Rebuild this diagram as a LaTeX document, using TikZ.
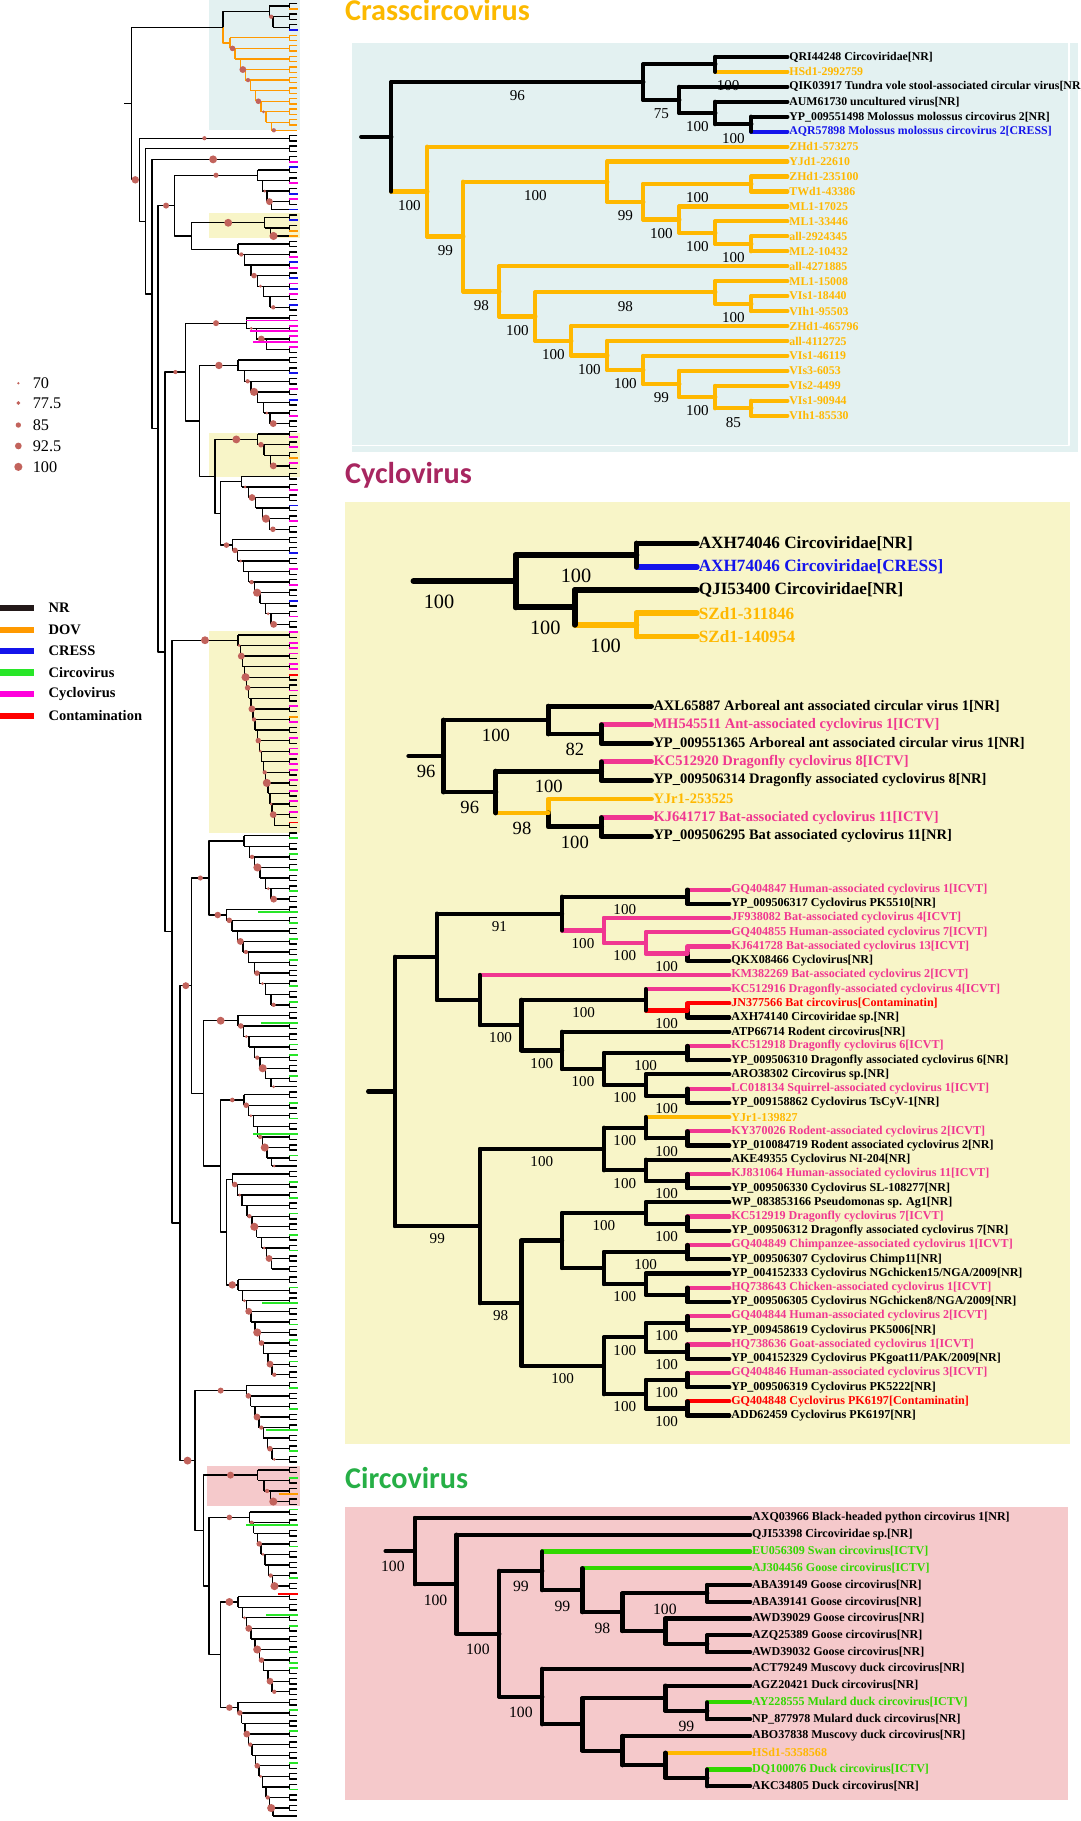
\documentclass[tikz,border=0pt]{standalone}
\usepackage{fontspec}
\setmainfont{Liberation Serif}
\newfontfamily\headfont{Carlito}
\usetikzlibrary{calc}

\definecolor{dov}{RGB}{255,184,0}
\definecolor{dovl}{RGB}{255,153,0}
\definecolor{cress}{RGB}{20,20,235}
\definecolor{cyc}{RGB}{240,55,145}
\definecolor{cycl}{RGB}{255,0,220}
\definecolor{circ}{RGB}{50,215,0}
\definecolor{circl}{RGB}{40,230,40}
\definecolor{contam}{RGB}{255,0,0}
\definecolor{nrblk}{RGB}{35,25,25}
\definecolor{dotc}{RGB}{194,99,92}
\definecolor{crassbg}{RGB}{227,241,241}
\definecolor{cyclobg}{RGB}{248,245,200}
\definecolor{circobg}{RGB}{245,201,203}
\definecolor{crasshead}{RGB}{252,185,0}
\definecolor{cyclohead}{RGB}{168,38,96}
\definecolor{circohead}{RGB}{38,175,70}

% y of leaf i in the overview tree
\newcommand\ovy[1]{3+4.55*(#1)}
% inner node at x=#2, halfway between children #3 and #4
\newcommand\tjoin[4]{\path ($(#3)!.5!(#4)$) coordinate (#1m);
  \coordinate (#1) at (#2,0 |- #1m);}
% style, name, x, child a, colour a, child b, colour b, colour of upright
\newcommand\clade[8]{\tjoin{#2}{#3}{#4}{#6}
  \draw[#1,#5] (#2) |- (#4);
  \draw[#1,#7] (#2) |- (#6);
  \draw[#1,#8] (#2 |- #4) -- (#2 |- #6);}
% support value under the branch into #4
\newcommand\bsl[5]{\node[#1] (#2) at ($(#3 |- #4)!.5!(#4)$) {#5};}
% ladder clade of the overview tree: leaves #3..#4, root at x=#5
\newcommand\ovclade[5][black]{%
  \pgfmathtruncatemacro\ovn{(#4-#3+2)/2}%
  \pgfmathsetmacro\ovdx{(238-#5)/max(\ovn-1,1)}%
  \foreach \k in {1,...,\ovn}{%
    \pgfmathtruncatemacro\ovla{#3+2*(\k-1)}%
    \pgfmathsetmacro\ovya{\ovy{\ovla}}%
    \pgfmathsetmacro\ovyb{\ovya+4.55}%
    \pgfmathsetmacro\ovyu{\ovla<#4 ? \ovya+2.275 : \ovya}%
    \pgfmathsetmacro\ovyn{\ovla+2<#4 ? \ovya+11.375 : \ovya+9.1}%
    \pgfmathsetmacro\ovxk{#5+(\k-1)*\ovdx}%
    \pgfmathsetmacro\ovxp{#5+max(\k-2,0)*\ovdx}%
    \pgfmathsetmacro\ovxe{\ovla<#4 ? 249 : 256}%
    \draw[ovbr,#1] (\ovxp,\ovyu) -- (\ovxe,\ovyu);
    \ifnum\k<\ovn \draw[ovbr,#1] (\ovxk,\ovyu) -- (\ovxk,\ovyn);\fi
    \ifnum\ovla<#4 \draw[ovbr,#1] (256,\ovya) -- (249,\ovya) -- (249,\ovyb) -- (256,\ovyb);\fi
    \ifnum\k>1
      \pgfmathtruncatemacro\ovm{mod(\k+#3,3)}%
      \pgfmathsetmacro\ovr{1.3+0.55*mod(3*\k+#3,5)}%
      \ifnum\ovm>0 \fill[dotc] ({(\ovxp+\ovxk)/2},\ovyu) circle (\ovr);\fi
    \fi
  }%
  \pgfmathsetmacro\ovya{\ovy{#3}}%
  \pgfmathsetmacro\ovyc{\ovn>1 ? \ovya+6.825 : (#4>#3 ? \ovya+2.275 : \ovya)}%
  \coordinate (#2) at (#5,\ovyc);}

\begin{document}
\begin{tikzpicture}[x=1pt, y=-1pt, line join=round]
\tikzstyle{head}=[anchor=base west, inner sep=0pt, font=\headfont\bfseries\fontsize{26}{26}\selectfont]
\tikzstyle{ovbr}=[line width=1.15pt]
\tikzstyle{ovtip}=[line width=1.6pt]
\tikzstyle{legval}=[anchor=west, inner sep=0pt, font=\fontsize{14}{14}\selectfont]
\tikzstyle{legkey}=[anchor=west, inner sep=0pt, font=\bfseries\fontsize{12.5}{12.5}\selectfont]
\tikzstyle{crleaf}=[anchor=west, inner sep=1.5pt, font=\bfseries\fontsize{10.2}{10.2}\selectfont]
\tikzstyle{crbr}=[line width=3.6pt, line cap=round]
\tikzstyle{crbs}=[inner sep=0pt, font=\fontsize{13}{13}\selectfont, yshift=-12pt]
\tikzstyle{aleaf}=[anchor=west, inner sep=1.5pt, font=\bfseries\fontsize{14.8}{14.8}\selectfont]
\tikzstyle{abr}=[line width=5pt, line cap=round]
\tikzstyle{abs}=[inner sep=0pt, font=\fontsize{17.5}{17.5}\selectfont, yshift=-18pt]
\tikzstyle{bleaf}=[anchor=west, inner sep=1.5pt, font=\bfseries\fontsize{12.5}{12.5}\selectfont]
\tikzstyle{bbr}=[line width=4.2pt, line cap=round]
\tikzstyle{bbs}=[inner sep=0pt, font=\fontsize{16}{16}\selectfont, yshift=-13pt]
\tikzstyle{cleaf}=[anchor=west, inner sep=1.5pt, font=\bfseries\fontsize{10.4}{10.4}\selectfont]
\tikzstyle{cbr}=[line width=3.6pt, line cap=round]
\tikzstyle{cbs}=[inner sep=0pt, font=\fontsize{13}{13}\selectfont, yshift=-11pt]
\tikzstyle{zleaf}=[anchor=west, inner sep=1.5pt, font=\bfseries\fontsize{10.35}{10.35}\selectfont]
\tikzstyle{zbr}=[line width=3.6pt, line cap=round]
\tikzstyle{zbs}=[inner sep=0pt, font=\fontsize{13.5}{13.5}\selectfont, yshift=-13.5pt]

\useasboundingbox (0,0) rectangle (930,1568);

% backgrounds
\fill[crassbg] (180,0) rectangle (258,112);
\fill[cyclobg] (180,183) rectangle (258,205);
\fill[cyclobg] (180,373) rectangle (258,411);
\fill[cyclobg] (180,543) rectangle (258,717);
\fill[circobg] (178,1262) rectangle (258,1297);
\fill[crassbg] (303,37) rectangle (928,389);
\draw[white, line width=1.5pt] (920.5,37) -- (920.5,383.5) -- (303,383.5);
\fill[cyclobg] (297,432) rectangle (921,1243);
\fill[circobg] (297,1298) rectangle (920,1550);

%%% overview tree
\ovclade{cb}{0}{5}{232}
\ovclade[dovl]{co}{6}{24}{198}
\tjoin{g1}{192}{cb}{co}
\draw[ovbr] (g1) |- (cb);
\draw[ovbr,dovl] (g1) |- (co);
\ovclade{g2}{25}{26}{232}
\ovclade{g3}{27}{28}{236}
\ovclade{g4}{29}{30}{236}
\ovclade{g5}{31}{39}{222}
\ovclade{g6}{40}{44}{228}
\ovclade{g7}{45}{58}{205}
\ovclade{g8}{59}{66}{212}
\ovclade{g9}{67}{80}{205}
\ovclade{g10}{81}{88}{222}
\ovclade{g11}{89}{100}{208}
\ovclade{g12}{101}{118}{200}
\ovclade{g13}{119}{156}{205}
\ovclade{g14}{157}{170}{210}
\ovclade{g15}{171}{190}{195}
\ovclade{g16}{191}{205}{205}
\ovclade{g17}{206}{220}{210}
\ovclade{g18}{221}{240}{200}
\ovclade{g19}{241}{260}{205}
\ovclade{g20}{261}{276}{212}
\ovclade{g21}{277}{284}{222}
\ovclade{g22}{285}{300}{215}
\ovclade{g23}{301}{320}{205}
\ovclade{g24}{321}{343}{205}

\tjoin{U3}{190}{g23}{g24}
\tjoin{U2}{180}{g22}{U3}
\tjoin{U1}{175}{g21}{U2}
\tjoin{U}{168}{g20}{U1}
\tjoin{T4}{195}{g18}{g19}
\tjoin{T3}{190}{g17}{T4}
\tjoin{T2}{175}{g16}{T3}
\tjoin{T1}{180}{g14}{g15}
\tjoin{T}{165}{T1}{T2}
\tjoin{R7}{155}{T}{U}
\tjoin{R6}{148}{g13}{R7}
\tjoin{S4}{190}{g11}{g12}
\tjoin{S3}{185}{g10}{S4}
\tjoin{S2}{172}{g9}{S3}
\tjoin{S}{160}{g8}{S2}
\tjoin{R5}{142}{S}{R6}
\tjoin{Q2}{165}{g6}{g7}
\tjoin{Q}{150}{g5}{Q2}
\tjoin{R4}{136}{Q}{R5}
\tjoin{R3}{131}{g4}{R4}
\tjoin{R2}{125}{g3}{R3}
\tjoin{R1}{120}{g2}{R2}
\tjoin{R0}{113}{g1}{R1}
\foreach \pa/\ca/\cb in {U3/g23/g24, U2/g22/U3, U1/g21/U2, U/g20/U1, T4/g18/g19,
    T3/g17/T4, T2/g16/T3, T1/g14/g15, T/T1/T2, R7/T/U, R6/g13/R7, S4/g11/g12,
    S3/g10/S4, S2/g9/S3, S/g8/S2, R5/S/R6, Q2/g6/g7, Q/g5/Q2, R4/Q/R5,
    R3/g4/R4, R2/g3/R3, R1/g2/R2, R0/g1/R1}
  \draw[ovbr] (\ca) -| (\pa) |- (\cb);
\draw[ovbr] (107,0 |- R0) -- (R0);
\foreach \pa/\ca/\rr in {R0/R1/3.2, R1/g2/1.8, R3/g4/3.4, R4/Q/2.6, Q/g5/2.2, Q2/g6/3.4,
    R5/S/1.8, S/g8/2.6, S2/g9/3.2, S3/g10/3.4, S4/g12/2.4, R6/g13/3.4, R7/T/3.0,
    T/T1/2.2, T1/g15/2.8, T2/g16/3.4, T3/g17/2.0, T4/g19/3.2, R7/U/3.4, U/g20/2.6,
    U1/g21/3.0, U2/g22/2.4, U3/g23/3.4, U3/g24/2.8}
  \fill[dotc] ($(\pa |- \ca)!.5!(\ca)$) circle (\rr);
% coloured tips
\foreach \i/\col in {1/dovl, 5/cress, 30/cycl, 31/cress, 34/cycl, 36/cress, 37/cycl, 39/cress,
    41/cress, 43/dovl, 44/dovl, 48/cycl, 49/cress, 50/cycl, 52/cress, 53/cycl, 54/cress,
    55/cycl, 57/cress, 61/cycl, 63/cycl, 65/cycl, 70/cress, 73/cycl, 75/cress, 78/cycl,
    82/cycl, 84/cycl, 86/dovl, 87/cycl, 92/cycl, 95/cress, 98/cycl, 104/cress, 107/cycl,
    110/cycl, 113/cress, 116/cycl, 119/cycl, 121/cycl, 122/cycl, 123/cycl, 125/cycl,
    126/cycl, 127/contam, 130/cycl, 133/cycl, 135/dovl, 136/cycl, 139/cycl, 141/cycl,
    142/cycl, 144/cycl, 145/cycl, 147/cycl, 149/cycl, 151/cycl, 153/cycl, 155/contam,
    158/circl, 161/circl, 164/circl, 168/circl, 174/circl, 177/circl, 181/circl,
    186/circl, 189/circl, 197/circl, 199/circl, 203/circl, 208/circl, 211/circl,
    218/circl, 223/circl, 226/circl, 229/circl, 233/circl, 236/circl, 243/circl,
    250/circl, 253/circl, 257/circl, 262/circl, 266/circl, 274/circl, 279/circl,
    285/circl, 292/circl, 298/circl, 307/circl, 312/circl, 314/circl, 315/circl,
    323/circl, 327/circl, 333/circl, 338/circl}
  \draw[ovtip,\col] (249,{\ovy{\i}}) -- (256.5,{\ovy{\i}});
\foreach \i/\x/\col in {60/212/cycl, 62/215/cycl, 64/218/cycl, 172/222/circl,
    193/225/circl, 214/218/circl, 246/226/circl, 270/229/circl, 282/240/dovl,
    288/212/circl, 301/239/contam, 305/229/circl}
  \draw[ovtip,\col] (\x,{\ovy{\i}}) -- (256.5,{\ovy{\i}});

%%% legend
\foreach \v/\rr/\y [count=\i] in {70/1.15/330, 77.5/1.7/347, 85/2.3/366, 92.5/2.9/384, 100/3.5/402}{
  \fill[dotc] (15.8,\y) circle (\rr);
  \node[legval] (size\i) at (28,\y) {\v};
}
\foreach \lbl/\col/\y [count=\i] in {NR/nrblk/523.5, DOV/dovl/542.5, CRESS/cress/560.6,
    Circovirus/circl/579, Cyclovirus/cycl/597.6, Contamination/contam/616.5}{
  \draw[\col, line width=5.7pt] (0,\y) -- (29,\y);
  \node[legkey] (key\i) at (41.6,\y) {\lbl};
}

%%% Crasscircovirus
\node[head, text=crasshead] (crasstitle) at (297,18) {Crasscircovirus};
\foreach \lbl/\col [count=\i] in {QRI44248 Circoviridae[NR]/black, HSd1-2992759/dov,
    QIK03917 Tundra vole stool-associated circular virus[NR]/black,
    AUM61730 uncultured virus[NR]/black,
    YP\_009551498 Molossus molossus circovirus 2[NR]/black,
    AQR57898 Molossus molossus circovirus 2[CRESS]/cress,
    ZHd1-573275/dov, YJd1-22610/dov, ZHd1-235100/dov, TWd1-43386/dov,
    ML1-17025/dov, ML1-33446/dov, all-2924345/dov, ML2-10432/dov,
    all-4271885/dov, ML1-15008/dov, VIs1-18440/dov, VIh1-95503/dov,
    ZHd1-465796/dov, all-4112725/dov, VIs1-46119/dov, VIs3-6053/dov,
    VIs2-4499/dov, VIs1-90944/dov, VIh1-85530/dov}
  \node[crleaf, text=\col] (cr\i) at (678,{49+12.875*(\i-1)}) {\lbl};

\clade{crbr}{ka}{647}{cr5}{black}{cr6}{cress}{black}
\clade{crbr}{kb}{616}{cr4}{black}{ka}{black}{black}
\clade{crbr}{kc}{585}{cr3}{black}{kb}{black}{black}
\clade{crbr}{kd}{616}{cr1}{black}{cr2}{dov}{black}
\clade{crbr}{ke}{554}{kd}{black}{kc}{black}{black}
\clade{crbr}{oa}{647}{cr9}{dov}{cr10}{dov}{dov}
\clade{crbr}{ob}{647}{cr13}{dov}{cr14}{dov}{dov}
\clade{crbr}{oc}{616}{cr12}{dov}{ob}{dov}{dov}
\clade{crbr}{od}{585}{cr11}{dov}{oc}{dov}{dov}
\clade{crbr}{oe}{554}{oa}{dov}{od}{dov}{dov}
\clade{crbr}{of}{523}{cr8}{dov}{oe}{dov}{dov}
\clade{crbr}{og}{647}{cr17}{dov}{cr18}{dov}{dov}
\clade{crbr}{oh}{616}{cr16}{dov}{og}{dov}{dov}
\clade{crbr}{oi}{647}{cr24}{dov}{cr25}{dov}{dov}
\clade{crbr}{oj}{616}{cr23}{dov}{oi}{dov}{dov}
\clade{crbr}{ok}{585}{cr22}{dov}{oj}{dov}{dov}
\clade{crbr}{ol}{554}{cr21}{dov}{ok}{dov}{dov}
\clade{crbr}{om}{523}{cr20}{dov}{ol}{dov}{dov}
\clade{crbr}{on}{492}{cr19}{dov}{om}{dov}{dov}
\clade{crbr}{oo}{461}{oh}{dov}{on}{dov}{dov}
\clade{crbr}{op}{430}{cr15}{dov}{oo}{dov}{dov}
\clade{crbr}{oq}{399}{of}{dov}{op}{dov}{dov}
\clade{crbr}{or}{368}{cr7}{dov}{oq}{dov}{dov}
\clade{crbr}{kr}{337}{ke}{black}{or}{dov}{black}
\draw[crbr] (311,0 |- kr) -- (kr);

\bsl{crbs}{b-ke}{kr}{ke}{96}
\bsl{crbs}{b-kc}{ke}{kc}{75}
\bsl{crbs}{b-kb}{kc}{kb}{100}
\bsl{crbs}{b-ka}{kb}{ka}{100}
\node[crbs] (b-kd) at (627,62) {100};
\bsl{crbs}{b-or}{kr}{or}{100}
\bsl{crbs}{b-oq}{or}{oq}{99}
\bsl{crbs}{b-of}{oq}{of}{100}
\bsl{crbs}{b-oe}{of}{oe}{99}
\bsl{crbs}{b-oa}{oe}{oa}{100}
\bsl{crbs}{b-od}{oe}{od}{100}
\bsl{crbs}{b-oc}{od}{oc}{100}
\bsl{crbs}{b-ob}{oc}{ob}{100}
\bsl{crbs}{b-op}{oq}{op}{98}
\bsl{crbs}{b-oo}{op}{oo}{100}
\bsl{crbs}{b-oh}{oo}{oh}{98}
\bsl{crbs}{b-og}{oh}{og}{100}
\bsl{crbs}{b-on}{oo}{on}{100}
\bsl{crbs}{b-om}{on}{om}{100}
\bsl{crbs}{b-ol}{om}{ol}{100}
\bsl{crbs}{b-ok}{ol}{ok}{99}
\bsl{crbs}{b-oj}{ok}{oj}{100}
\bsl{crbs}{b-oi}{oj}{oi}{85}

%%% Cyclovirus
\node[head, text=cyclohead] (cyclotitle) at (297,416.5) {Cyclovirus};
% first tree
\foreach \lbl/\col [count=\i] in {AXH74046 Circoviridae[NR]/black,
    AXH74046 Circoviridae[CRESS]/cress, QJI53400 Circoviridae[NR]/black,
    SZd1-311846/dov, SZd1-140954/dov}
  \node[aleaf, text=\col] (ya\i) at (600,{468+20*(\i-1)}) {\lbl};
\clade{abr}{aa}{548}{ya1}{black}{ya2}{cress}{black}
\clade{abr}{ab}{548}{ya4}{dov}{ya5}{dov}{dov}
\clade{abr}{ac}{495}{ya3}{black}{ab}{dov}{black}
\clade{abr}{ad}{444}{aa}{black}{ac}{black}{black}
\coordinate (as) at (356,0 |- ad);
\draw[abr] (as) -- (ad);
\node[abs] (b-as) at ($(as)!.25!(ad)$) {100};
\bsl{abs}{b-aa}{ad}{aa}{100}
\bsl{abs}{b-ac}{ad}{ac}{100}
\bsl{abs}{b-ab}{ac}{ab}{100}

% second tree
\foreach \lbl/\col [count=\i] in {AXL65887 Arboreal ant associated circular virus 1[NR]/black,
    MH545511 Ant-associated cyclovirus 1[ICTV]/cyc,
    YP\_009551365 Arboreal ant associated circular virus 1[NR]/black,
    KC512920 Dragonfly cyclovirus 8[ICTV]/cyc,
    YP\_009506314 Dragonfly associated cyclovirus 8[NR]/black,
    YJr1-253525/dov,
    KJ641717 Bat-associated cyclovirus 11[ICTV]/cyc,
    YP\_009506295 Bat associated cyclovirus 11[NR]/black}
  \node[bleaf, text=\col] (yb\i) at (561,{608+16*(\i-1)}) {\lbl};
\clade{bbr}{ba}{518}{yb2}{cyc}{yb3}{black}{black}
\clade{bbr}{bb}{472}{yb1}{black}{ba}{black}{black}
\clade{bbr}{bc}{518}{yb4}{cyc}{yb5}{black}{black}
\clade{bbr}{bd}{518}{yb7}{cyc}{yb8}{black}{black}
\clade{bbr}{be}{472}{yb6}{dov}{bd}{black}{draw=none}
\clade{bbr}{bf}{427}{bc}{black}{be}{dov}{black}
\clade{bbr}{bg}{382}{bb}{black}{bf}{black}{black}
\coordinate (bs) at (352,0 |- bg);
\draw[bbr] (bs) -- (bg);
\node[bbs] (b-bs) at ($(bs)!.5!(bg)$) {96};
\bsl{bbs}{b-bb}{bg}{bb}{100}
\bsl{bbs}{b-ba}{bb}{ba}{82}
\bsl{bbs}{b-bf}{bg}{bf}{96}
\bsl{bbs}{b-bc}{bf}{bc}{100}
\bsl{bbs}{b-be}{bf}{be}{98}
\bsl{bbs}{b-bd}{be}{bd}{100}

% third tree
\foreach \lbl/\col [count=\i] in {GQ404847 Human-associated cyclovirus 1[ICVT]/cyc,
    YP\_009506317 Cyclovirus PK5510[NR]/black,
    JF938082 Bat-associated cyclovirus 4[ICVT]/cyc,
    GQ404855 Human-associated cyclovirus 7[ICVT]/cyc,
    KJ641728 Bat-associated cyclovirus 13[ICVT]/cyc,
    QKX08466 Cyclovirus[NR]/black,
    KM382269 Bat-associated cyclovirus 2[ICVT]/cyc,
    KC512916 Dragonfly-associated cyclovirus 4[ICVT]/cyc,
    JN377566 Bat circovirus[Contaminatin]/contam,
    AXH74140 Circoviridae sp.[NR]/black,
    ATP66714 Rodent circovirus[NR]/black,
    KC512918 Dragonfly cyclovirus 6[ICVT]/cyc,
    YP\_009506310 Dragonfly associated cyclovirus 6[NR]/black,
    ARO38302 Circovirus sp.[NR]/black,
    LC018134 Squirrel-associated cyclovirus 1[ICVT]/cyc,
    YP\_009158862 Cyclovirus TsCyV-1[NR]/black,
    YJr1-139827/dov,
    KY370026 Rodent-associated cyclovirus 2[ICVT]/cyc,
    YP\_010084719 Rodent associated cyclovirus 2[NR]/black,
    AKE49355 Cyclovirus NI-204[NR]/black,
    KJ831064 Human-associated cyclovirus 11[ICVT]/cyc,
    YP\_009506330 Cyclovirus SL-108277[NR]/black,
    WP\_083853166 Pseudomonas sp. Ag1[NR]/black,
    KC512919 Dragonfly cyclovirus 7[ICVT]/cyc,
    YP\_009506312 Dragonfly associated cyclovirus 7[NR]/black,
    GQ404849 Chimpanzee-associated cyclovirus 1[ICVT]/cyc,
    YP\_009506307 Cyclovirus Chimp11[NR]/black,
    {YP\_004152333 Cyclovirus NGchicken15/NGA/2009[NR]}/black,
    HQ738643 Chicken-associated cyclovirus 1[ICVT]/cyc,
    {YP\_009506305 Cyclovirus NGchicken8/NGA/2009[NR]}/black,
    GQ404844 Human-associated cyclovirus 2[ICVT]/cyc,
    YP\_009458619 Cyclovirus PK5006[NR]/black,
    HQ738636 Goat-associated cyclovirus 1[ICVT]/cyc,
    {YP\_004152329 Cyclovirus PKgoat11/PAK/2009[NR]}/black,
    GQ404846 Human-associated cyclovirus 3[ICVT]/cyc,
    YP\_009506319 Cyclovirus PK5222[NR]/black,
    GQ404848 Cyclovirus PK6197[Contaminatin]/contam,
    ADD62459 Cyclovirus PK6197[NR]/black}
  \node[cleaf, text=\col] (yc\i) at (628,{766+12.24*(\i-1)}) {\lbl};
\clade{cbr}{u1}{592}{yc1}{cyc}{yc2}{black}{black}
\clade{cbr}{u2}{592}{yc5}{cyc}{yc6}{black}{draw=none}
\clade{cbr}{u3}{556}{yc4}{cyc}{u2}{cyc}{cyc}
\clade{cbr}{u4}{520}{yc3}{cyc}{u3}{cyc}{cyc}
\clade{cbr}{u5}{484}{u1}{black}{u4}{cyc}{black}
\clade{cbr}{u6}{592}{yc9}{contam}{yc10}{black}{draw=none}
\clade{cbr}{u7}{556}{yc8}{cyc}{u6}{contam}{black}
\clade{cbr}{u8}{592}{yc12}{cyc}{yc13}{black}{black}
\clade{cbr}{u9}{592}{yc15}{cyc}{yc16}{black}{black}
\clade{cbr}{u10}{556}{yc14}{black}{u9}{black}{black}
\clade{cbr}{u11}{520}{u8}{black}{u10}{black}{black}
\clade{cbr}{u12}{484}{yc11}{black}{u11}{black}{black}
\clade{cbr}{u13}{449}{u7}{black}{u12}{black}{black}
\clade{cbr}{u14}{413}{yc7}{cyc}{u13}{black}{black}
\clade{cbr}{u15}{376}{u5}{black}{u14}{black}{black}
\clade{cbr}{l1}{592}{yc18}{cyc}{yc19}{black}{black}
\clade{cbr}{l2}{556}{yc17}{dov}{l1}{black}{black}
\clade{cbr}{l3}{592}{yc21}{cyc}{yc22}{black}{black}
\clade{cbr}{l4}{556}{yc20}{black}{l3}{black}{black}
\clade{cbr}{l5}{520}{l2}{black}{l4}{black}{black}
\clade{cbr}{l6}{592}{yc24}{cyc}{yc25}{black}{black}
\clade{cbr}{l7}{556}{yc23}{black}{l6}{black}{black}
\clade{cbr}{l8}{592}{yc26}{cyc}{yc27}{black}{black}
\clade{cbr}{l9}{592}{yc29}{cyc}{yc30}{black}{black}
\clade{cbr}{l10}{556}{yc28}{black}{l9}{black}{black}
\clade{cbr}{l11}{520}{l8}{black}{l10}{black}{black}
\clade{cbr}{l12}{484}{l7}{black}{l11}{black}{black}
\clade{cbr}{l13}{592}{yc31}{cyc}{yc32}{black}{black}
\clade{cbr}{l14}{592}{yc33}{cyc}{yc34}{black}{black}
\clade{cbr}{l15}{556}{l13}{black}{l14}{black}{black}
\clade{cbr}{l16}{592}{yc35}{cyc}{yc36}{black}{black}
\clade{cbr}{l17}{592}{yc37}{contam}{yc38}{black}{black}
\clade{cbr}{l18}{556}{l16}{black}{l17}{black}{black}
\clade{cbr}{l19}{520}{l15}{black}{l18}{black}{black}
\clade{cbr}{l20}{449}{l12}{black}{l19}{black}{black}
\clade{cbr}{l21}{413}{l5}{black}{l20}{black}{black}
\clade{cbr}{cc}{340}{u15}{black}{l21}{black}{black}
\draw[cbr] (317,0 |- cc) -- (cc);

\bsl{cbs}{b-u5}{u15}{u5}{91}
\bsl{cbs}{b-u1}{u5}{u1}{100}
\bsl{cbs}{b-u4}{u5}{u4}{100}
\bsl{cbs}{b-u3}{u4}{u3}{100}
\bsl{cbs}{b-u2}{u3}{u2}{100}
\bsl{cbs}{b-u13}{u14}{u13}{100}
\bsl{cbs}{b-u7}{u13}{u7}{100}
\bsl{cbs}{b-u6}{u7}{u6}{100}
\bsl{cbs}{b-u12}{u13}{u12}{100}
\bsl{cbs}{b-u11}{u12}{u11}{100}
\bsl{cbs}{b-u8}{u11}{u8}{100}
\bsl{cbs}{b-u10}{u11}{u10}{100}
\bsl{cbs}{b-u9}{u10}{u9}{100}
\bsl{cbs}{b-l21}{cc}{l21}{99}
\bsl{cbs}{b-l5}{l21}{l5}{100}
\bsl{cbs}{b-l2}{l5}{l2}{100}
\bsl{cbs}{b-l1}{l2}{l1}{100}
\bsl{cbs}{b-l4}{l5}{l4}{100}
\bsl{cbs}{b-l3}{l4}{l3}{100}
\bsl{cbs}{b-l7}{l12}{l7}{100}
\bsl{cbs}{b-l6}{l7}{l6}{100}
\bsl{cbs}{b-l8}{l11}{l8}{100}
\bsl{cbs}{b-l10}{l11}{l10}{100}
\bsl{cbs}{b-l20}{l21}{l20}{98}
\bsl{cbs}{b-l19}{l20}{l19}{100}
\bsl{cbs}{b-l15}{l19}{l15}{100}
\bsl{cbs}{b-l13}{l15}{l13}{100}
\bsl{cbs}{b-l14}{l15}{l14}{100}
\bsl{cbs}{b-l18}{l19}{l18}{100}
\bsl{cbs}{b-l16}{l18}{l16}{100}
\bsl{cbs}{b-l17}{l18}{l17}{100}

%%% Circovirus
\node[head, text=circohead] (circotitle) at (297,1282) {Circovirus};
\foreach \lbl/\col [count=\i] in {AXQ03966 Black-headed python circovirus 1[NR]/black,
    QJI53398 Circoviridae sp.[NR]/black,
    EU056309 Swan circovirus[ICTV]/circ,
    AJ304456 Goose circovirus[ICTV]/circ,
    ABA39149 Goose circovirus[NR]/black,
    ABA39141 Goose circovirus[NR]/black,
    AWD39029 Goose circovirus[NR]/black,
    AZQ25389 Goose circovirus[NR]/black,
    AWD39032 Goose circovirus[NR]/black,
    ACT79249 Muscovy duck circovirus[NR]/black,
    AGZ20421 Duck circovirus[NR]/black,
    AY228555 Mulard duck circovirus[ICTV]/circ,
    NP\_877978 Mulard duck circovirus[NR]/black,
    ABO37838 Muscovy duck circovirus[NR]/black,
    HSd1-5358568/dov,
    DQ100076 Duck circovirus[ICTV]/circ,
    AKC34805 Duck circovirus[NR]/black}
  \node[zleaf, text=\col] (yz\i) at (646,{1307+14.44*(\i-1)}) {\lbl};
\clade{zbr}{zA}{609}{yz5}{black}{yz6}{black}{black}
\clade{zbr}{zB}{609}{yz8}{black}{yz9}{black}{black}
\clade{zbr}{zC}{573}{yz7}{black}{zB}{black}{black}
\clade{zbr}{zD}{536}{zA}{black}{zC}{black}{black}
\clade{zbr}{zE}{501.5}{yz4}{circ}{zD}{black}{black}
\clade{zbr}{zF}{467}{yz3}{circ}{zE}{black}{black}
\clade{zbr}{zG}{609}{yz12}{circ}{yz13}{black}{black}
\clade{zbr}{zH}{573}{yz11}{black}{zG}{black}{black}
\clade{zbr}{zI}{609}{yz16}{circ}{yz17}{black}{black}
\clade{zbr}{zJ}{573}{yz15}{dov}{zI}{black}{black}
\clade{zbr}{zK}{536}{yz14}{black}{zJ}{black}{black}
\clade{zbr}{zL}{501.5}{zH}{black}{zK}{black}{black}
\clade{zbr}{zM}{467}{yz10}{black}{zL}{black}{black}
\clade{zbr}{zN}{430}{zF}{black}{zM}{black}{black}
\clade{zbr}{zO}{393}{yz2}{black}{zN}{black}{black}
\clade{zbr}{zR}{357}{yz1}{black}{zO}{black}{black}
\coordinate (zs) at (332,0 |- zR);
\draw[zbr] (zs) -- (zR);
\node[zbs] (b-zs) at ($(zs)!.25!(zR)$) {100};
\bsl{zbs}{b-zO}{zR}{zO}{100}
\bsl{zbs}{b-zN}{zO}{zN}{100}
\bsl{zbs}{b-zF}{zN}{zF}{99}
\bsl{zbs}{b-zE}{zF}{zE}{99}
\bsl{zbs}{b-zD}{zE}{zD}{98}
\bsl{zbs}{b-zA}{zD}{zA}{100}
\bsl{zbs}{b-zM}{zN}{zM}{100}
\bsl{zbs}{b-zG}{zH}{zG}{99}
\end{tikzpicture}
\end{document}
